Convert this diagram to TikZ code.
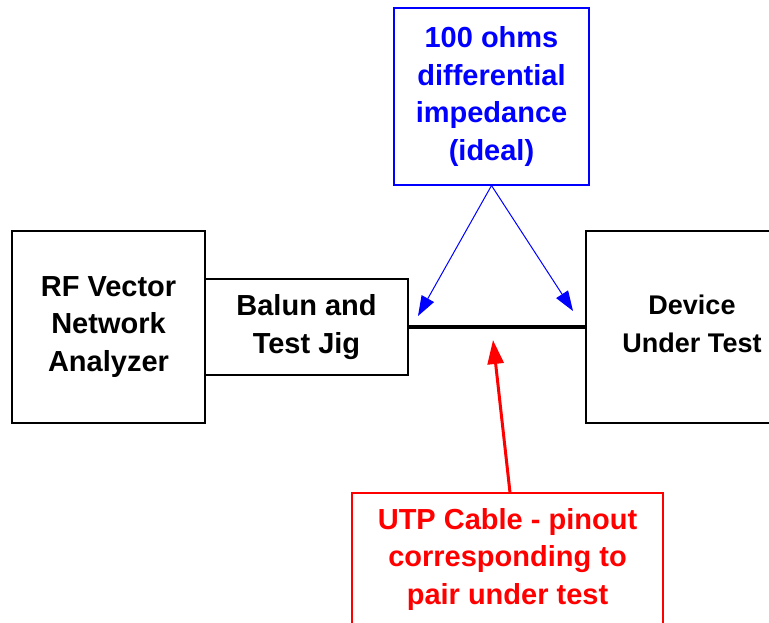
\documentclass[tikz,border=0pt]{standalone}
\usepackage{fontspec}
\setmainfont{Liberation Sans}
\usetikzlibrary{arrows.meta, positioning}

\begin{document}
\begin{tikzpicture}[x=1pt, y=-1pt]

	\tikzstyle{caja}=[draw, line width=1.3pt, align=center, inner sep=0pt, font=\fontsize{29}{37.5}\selectfont\bfseries]
	\tikzstyle{nota}=[caja, line width=1.1pt]
	\tikzstyle{flechaazul}=[blue, line width=1pt, -{Triangle[length=20pt, width=14pt]}]
	\tikzstyle{flecharoja}=[red, line width=3pt, -{Triangle[length=24pt, width=16pt]}]

	\useasboundingbox (0, 0) rectangle (769, 623);
	\clip (0, 0) rectangle (769, 623);

	\coordinate (c_vna) at (108.5, 327); % ANALIZADOR
	\coordinate (c_balun) at (306.5, 327); % BALUN
	\coordinate (c_dut) at (680, 327); % DISPOSITIVO
	\coordinate (c_imp) at (491.5, 96.5); % NOTA AZUL
	\coordinate (c_utp) at (507.5, 559); % NOTA ROJA

	\node[caja, minimum width=193, minimum height=192] (vna) at (c_vna) {RF Vector\\Network\\Analyzer};
	\node[caja, minimum width=203, minimum height=96] (balun) at (c_balun) {Balun and\\Test Jig};
	\node[caja, minimum width=188, minimum height=192] (dut) at (c_dut) {};
	\node[font=\fontsize{27}{37.5}\selectfont\bfseries, align=center] (dut_txt) at (692, 324) {Device\\Under Test};

	\node[nota, draw=blue, text=blue, minimum width=195, minimum height=177] (imp) at (c_imp) {100 ohms\\differential\\impedance\\(ideal)};
	\node[nota, draw=red, text=red, minimum width=311, minimum height=132] (utp) at (c_utp) {UTP Cable - pinout\\corresponding to\\pair under test};

	\coordinate (p_izq) at (418, 316);
	\coordinate (p_der) at (573, 311);
	\coordinate (p_cable) at (493, 340);

	\draw[line width=4pt] (balun.east) -- (dut.west);

	\draw[flechaazul] (imp.south) -- (p_izq);
	\draw[flechaazul] (imp.south) -- (p_der);
	\draw[flecharoja] (utp.north -| 510, 0) -- (p_cable);

\end{tikzpicture}
\end{document}
